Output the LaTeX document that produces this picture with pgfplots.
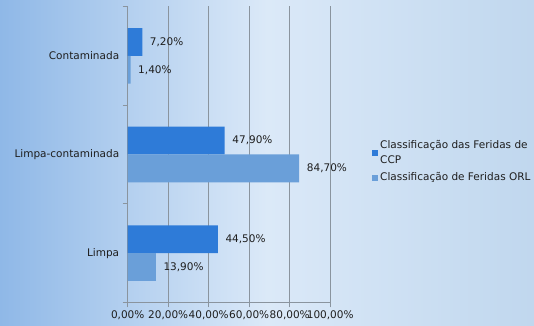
\documentclass[border=0pt]{standalone}
\usepackage{fontspec}
\setmainfont{DejaVu Sans}
\usepackage{pgfplots}
\pgfplotsset{compat=1.18}
\definecolor{ccp}{HTML}{2E7BD8}
\definecolor{orl}{HTML}{6A9FD9}
\definecolor{gridc}{HTML}{8A949E}
\definecolor{txt}{HTML}{1E1E1E}
\definecolor{bgl}{HTML}{8FB8E7}
\definecolor{bgm}{HTML}{DBE9F8}
\definecolor{bgr}{HTML}{C0D7EE}
\begin{document}
\begin{tikzpicture}
\useasboundingbox (0,0) rectangle (534bp,326bp);
\shade[left color=bgl, right color=bgr, middle color=bgm] (0,0) rectangle (534bp,326bp);
\begin{axis}[
  at={(127.7bp,23.5bp)}, anchor=south west,
  scale only axis, width=202.5bp, height=296bp,
  xbar, bar width=27.8bp,
  xmin=0, xmax=100, ymin=-0.5, ymax=2.5,
  axis lines*=left,
  axis line style={gridc, line width=0.9bp},
  xtick={0,20,40,60,80,100},
  xticklabels={{0,00\%},{20,00\%},{40,00\%},{60,00\%},{80,00\%},{100,00\%}},
  xmajorgrids, major grid style={gridc, line width=0.9bp},
  tick align=outside, tick style={gridc, line width=0.9bp},
  major tick length=5bp,
  ytick={-0.5,0.5,1.5,2.5},
  yticklabels={Limpa, Limpa-contaminada, Contaminada, {}},
  yticklabel style={yshift=49.33bp},
  ticklabel style={font=\fontsize{10.5bp}{12bp}\selectfont, text=txt},
  /pgf/number format/assume math mode=true,
  nodes near coords={\pgfplotspointmeta},
  point meta=explicit symbolic,
  every node near coord/.append style={font=\fontsize{10.5bp}{12bp}\selectfont, text=txt, anchor=west, inner sep=0pt, xshift=7.5bp},
  legend style={at={(1.2064,0.5557)}, anchor=north west, draw=none, fill=none,
    inner sep=0pt, row sep=4bp,
    font=\fontsize{10.5bp}{15bp}\selectfont, text=txt,
    cells={align=left, anchor=west}},
  legend image code/.code={\fill[#1,draw=none] (0bp,-3bp) rectangle (6bp,3bp);},
  clip=false,
]
\addplot[fill=ccp, draw=none, bar shift=13.9bp] coordinates {
  (44.5,0) [44,50\%]
  (47.9,1) [47,90\%]
  (7.2,2) [7,20\%]
};
\addlegendentry{{Classificação das Feridas de\\CCP}}
\addplot[fill=orl, draw=none, bar shift=-13.9bp] coordinates {
  (13.9,0) [13,90\%]
  (84.7,1) [84,70\%]
  (1.4,2) [1,40\%]
};
\addlegendentry{Classificação de Feridas ORL}
\end{axis}
\end{tikzpicture}
\end{document}
